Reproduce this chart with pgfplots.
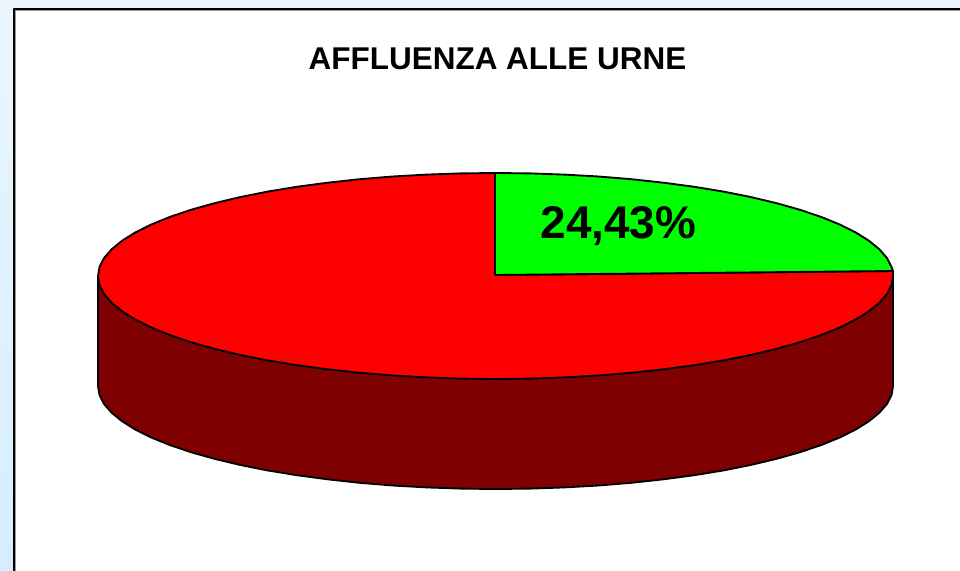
\documentclass[border=0pt]{standalone}
\usepackage{fontspec}
\setmainfont{Liberation Sans}
\usepackage{pgfplots}
\pgfplotsset{compat=1.18}
\definecolor{bgtop}{HTML}{EAF6FE}
\definecolor{bgbot}{HTML}{D6EDFF}
\definecolor{sidecol}{HTML}{7F0000}
\definecolor{pie red}{HTML}{FF0000}
\definecolor{pie green}{HTML}{00FF00}
\begin{document}
\begin{tikzpicture}[line join=round]
\path[use as bounding box] (0,0) rectangle (720pt,428.25pt);
\fill[top color=bgtop,bottom color=bgbot] (0,0) rectangle (720pt,428.25pt);
\fill[white] (10.5pt,0) rectangle (720pt,421.5pt);
\draw[gray!80,line width=0.6pt] (11.4pt,0) -- (11.4pt,420.6pt) -- (720pt,420.6pt);
\draw[black,line width=1.1pt] (10.5pt,0) -- (10.5pt,421.5pt) -- (720pt,421.5pt);
\begin{axis}[at={(0,0)},anchor=south west,scale only axis,width=720pt,height=428.25pt,
  xmin=0,xmax=960,ymin=0,ymax=571,y dir=reverse,hide axis,clip=false]
% side wall
\addplot[draw=black,line width=1.4pt,fill=sidecol,mark=none] coordinates {
(893,271)(893,386)(891.5,395)(887,403.9)(879.4,412.7)(869,421.2)(855.8,429.5)(839.7,437.5)(821.1,445.1)(800,452.2)(776.6,458.8)(751,464.9)(723.5,470.4)(694.25,475.2)(663.5,479.3)(631.4,482.8)(598.4,485.5)(564.5,487.4)(530.2,488.6)(495.5,489)
(460.8,488.6)(426.5,487.4)(392.6,485.5)(359.6,482.8)(327.5,479.3)(296.75,475.2)(267.5,470.4)(240,464.9)(214.4,458.8)(191,452.2)(169.9,445.1)(151.3,437.5)(135.2,429.5)(122,421.2)(111.6,412.7)(104,403.9)(99.5,395)(98,386)(98,276)(893,271)
};
% red slice (75.57 %)
\addplot[draw=black,line width=1.4pt,fill=pie red,mark=none] coordinates {
(495,275)(893,271)(893,276)(891.5,285)(887,293.9)(879.4,302.7)(869,311.2)(855.8,319.5)(839.7,327.5)(821.1,335.1)(800,342.2)(776.6,348.8)(751,354.9)(723.5,360.4)(694.25,365.2)(663.5,369.3)(631.4,372.8)(598.4,375.5)(564.5,377.4)(530.2,378.6)(495.5,379)
(460.8,378.6)(426.5,377.4)(392.6,375.5)(359.6,372.8)(327.5,369.3)(296.75,365.2)(267.5,360.4)(240,354.9)(214.4,348.8)(191,342.2)(169.9,335.1)(151.3,327.5)(135.2,319.5)(122,311.2)(111.6,302.7)(104,293.9)(99.5,285)(98,276)
(99.5,267)(104,258.1)(111.6,249.3)(122,240.8)(135.2,232.5)(151.3,224.5)(169.9,216.9)(191,209.8)(214.4,203.2)(240,197.1)(267.5,191.6)(296.75,186.8)(327.5,182.7)(359.6,179.2)(392.6,176.5)(426.5,174.6)(460.8,173.4)(495,173)(495,275)
};
% green slice (24.43 %)
\addplot[draw=black,line width=1.4pt,fill=pie green,mark=none] coordinates {
(495,275)(495,173)(530.2,173.4)(564.5,174.6)(598.4,176.5)(631.4,179.2)(663.5,182.7)(694.25,186.8)(723.5,191.6)(751,197.1)(776.6,203.2)(800,209.8)(821.1,216.9)(839.7,224.5)(855.8,232.5)(869,240.8)(879.4,249.3)(887,258.1)(891.5,267)(893,271)(495,275)
};
\node[font=\bfseries\fontsize{23.6pt}{26pt}\selectfont,anchor=center] at (axis cs:497.5,59) {AFFLUENZA ALLE URNE};
\node[font=\bfseries\fontsize{34.4pt}{38pt}\selectfont,anchor=center] at (axis cs:618.5,226) {24,43\%};
\end{axis}
\end{tikzpicture}
\end{document}
